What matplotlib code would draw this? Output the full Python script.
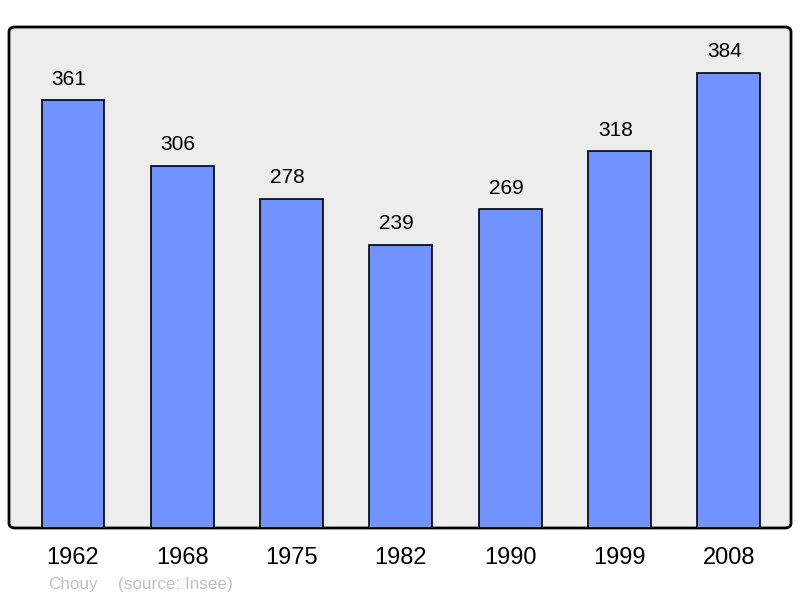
import matplotlib.pyplot as plt
from matplotlib.patches import FancyBboxPatch

plt.rcParams['font.family'] = ['Liberation Sans', 'DejaVu Sans']

years = ['1962', '1968', '1975', '1982', '1990', '1999', '2008']
population = [361, 306, 278, 239, 269, 318, 384]

fig = plt.figure(figsize=(8, 5.98), dpi=100)
# axes area in pixels: x 9..791, y 27..528
ax = fig.add_axes([9 / 800, 1 - 528 / 598, 782 / 800, 501 / 598])
ax.set_facecolor('none')

frame = FancyBboxPatch((9 / 800, 1 - 528 / 598), 782 / 800, 501 / 598,
                       boxstyle='round,pad=0,rounding_size=0.008',
                       transform=fig.transFigure, facecolor='#ededed',
                       edgecolor='black', linewidth=2, zorder=0, clip_on=False)
ax.add_patch(frame)

x = range(len(years))
bars = ax.bar(x, population, width=0.575, color='#7093ff',
              edgecolor='black', linewidth=1.2, zorder=2)
for xi, v in zip(x, population):
    ax.annotate(str(v), (xi, v), xytext=(-3, 8.5), textcoords='offset points',
                ha='center', va='bottom', fontsize=15, color='black')

ax.set_xlim(-0.585, 6.57)
ax.set_ylim(0, 423)
for s in ax.spines.values():
    s.set_visible(False)
ax.set_yticks([])
ax.set_xticks(list(x))
ax.set_xticklabels(years, fontsize=17)
ax.tick_params(axis='x', length=0, pad=14)

fig.text(48 / 800, 1 - 584 / 598, 'Chouy', color='#c0c0c0', fontsize=12.3, va='center')
fig.text(118 / 800, 1 - 584 / 598, '(source: Insee)', color='#c0c0c0', fontsize=12.3, va='center')

fig.savefig('out.png', dpi=100)
